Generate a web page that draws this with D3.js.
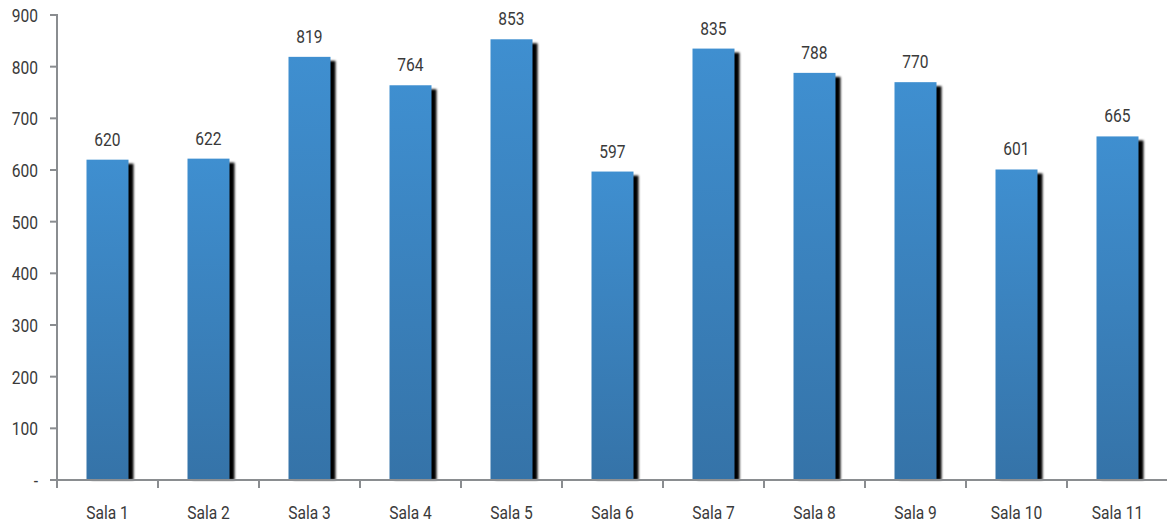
<!DOCTYPE html>
<html lang="es">
<head>
<meta charset="UTF-8">
<title>Salas</title>
<script src="https://d3js.org/d3.v7.min.js"></script>
<style>
  body { margin: 0; background: #fff; }
  text { font-family: Roboto, "DejaVu Sans Condensed", sans-serif; fill: #3a3a3a; font-size: 19px; font-weight: 400; }
</style>
</head>
<body>
<div id="chart"></div>
<script>
const categories = ["Sala 1", "Sala 2", "Sala 3", "Sala 4", "Sala 5", "Sala 6", "Sala 7", "Sala 8", "Sala 9", "Sala 10", "Sala 11"];
const values = [620, 622, 819, 764, 853, 597, 835, 788, 770, 601, 665];
const yTicks = [0, 100, 200, 300, 400, 500, 600, 700, 800, 900];

const width = 1167, height = 525;
const narrow = 0.82; // squeeze text to look like a condensed face

const svg = d3.select("#chart").append("svg")
    .attr("width", width)
    .attr("height", height);

const defs = svg.append("defs");
const grad = defs.append("linearGradient")
    .attr("id", "barGrad")
    .attr("x1", 0).attr("y1", 0).attr("x2", 0).attr("y2", 1);
grad.append("stop").attr("offset", "0%").attr("stop-color", "#3f8fd0");
grad.append("stop").attr("offset", "100%").attr("stop-color", "#3573a8");

defs.append("filter").attr("id", "blur")
    .append("feGaussianBlur").attr("stdDeviation", 0.9);

const x = d3.scaleBand()
    .domain(categories)
    .range([57, 1168]);

const y = d3.scaleLinear()
    .domain([0, 900])
    .range([480, 15]);

const barW = 42;
const cx = c => x(c) + x.bandwidth() / 2;

// shadows
svg.append("g").selectAll("rect")
    .data(values)
    .join("rect")
    .attr("x", (d, i) => cx(categories[i]) - barW / 2 + 5)
    .attr("y", d => y(d) + 4)
    .attr("width", barW)
    .attr("height", d => y(0) - y(d) - 4)
    .attr("fill", "#000")
    .attr("filter", "url(#blur)");

// bars
svg.append("g").selectAll("rect")
    .data(values)
    .join("rect")
    .attr("x", (d, i) => cx(categories[i]) - barW / 2)
    .attr("y", d => y(d))
    .attr("width", barW)
    .attr("height", d => y(0) - y(d))
    .attr("fill", "url(#barGrad)");

// value labels
svg.append("g").selectAll("text")
    .data(values)
    .join("text")
    .attr("transform", (d, i) => `translate(${cx(categories[i])},${y(d) - 14}) scale(${narrow},1)`)
    .attr("text-anchor", "middle")
    .text(d => d);

// y axis
const axisColor = "#8a8d90";
svg.append("g").selectAll("line")
    .data(yTicks)
    .join("line")
    .attr("x1", 50).attr("x2", 57)
    .attr("y1", d => y(d)).attr("y2", d => y(d))
    .attr("stroke", axisColor).attr("stroke-width", 2);
svg.append("g").selectAll("text")
    .data(yTicks)
    .join("text")
    .attr("transform", d => `translate(38,${y(d) + 7}) scale(${narrow},1)`)
    .attr("text-anchor", "end")
    .text(d => d === 0 ? "-" : d);
svg.append("line")
    .attr("x1", 57).attr("x2", 57)
    .attr("y1", y(900) - 1).attr("y2", y(0) + 8)
    .attr("stroke", axisColor).attr("stroke-width", 2);

// x axis
svg.append("line")
    .attr("x1", 50).attr("x2", width)
    .attr("y1", y(0)).attr("y2", y(0))
    .attr("stroke", axisColor).attr("stroke-width", 2);
svg.append("g").selectAll("line")
    .data(categories)
    .join("line")
    .attr("x1", d => x(d)).attr("x2", d => x(d))
    .attr("y1", y(0)).attr("y2", y(0) + 8)
    .attr("stroke", axisColor).attr("stroke-width", 2);
svg.append("g").selectAll("text")
    .data(categories)
    .join("text")
    .attr("transform", d => `translate(${cx(d)},519) scale(${narrow},1)`)
    .attr("text-anchor", "middle")
    .text(d => d);
</script>
</body>
</html>
